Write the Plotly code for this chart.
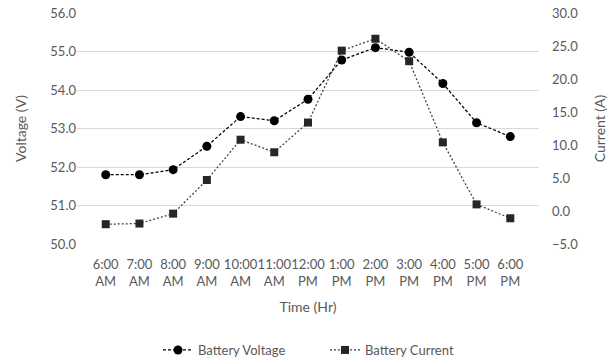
import plotly.graph_objects as go

times = ["6:00<br>AM", "7:00<br>AM", "8:00<br>AM", "9:00<br>AM", "10:00<br>AM", "11:00<br>AM",
         "12:00<br>PM", "1:00<br>PM", "2:00<br>PM", "3:00<br>PM", "4:00<br>PM", "5:00<br>PM", "6:00<br>PM"]
battery_voltage = [51.8, 51.8, 51.93, 52.54, 53.31, 53.2, 53.76, 54.78, 55.1, 54.98, 54.17, 53.15, 52.79]
battery_current = [-2.0, -1.9, -0.4, 4.7, 10.8, 8.9, 13.4, 24.3, 26.1, 22.7, 10.4, 1.0, -1.1]

FONT = "Lato"
TXT = "#595959"

fig = go.Figure()
fig.add_trace(go.Scatter(
    x=times, y=battery_voltage, name="Battery Voltage", mode="lines+markers",
    line=dict(color="#000000", width=1.25, dash="3px,2px"),
    marker=dict(symbol="circle", size=9, color="#000000"),
    yaxis="y",
))
fig.add_trace(go.Scatter(
    x=times, y=battery_current, name="Battery Current", mode="lines+markers",
    line=dict(color="#404040", width=1.25, dash="2px,2px"),
    marker=dict(symbol="square", size=8, color="#262626"),
    yaxis="y2",
))

fig.update_layout(
    width=608, height=361,
    margin=dict(l=77, r=69, t=13, b=117, autoexpand=False),
    paper_bgcolor="white", plot_bgcolor="white",
    font=dict(family=FONT, size=13, color=TXT),
    showlegend=True,
    legend=dict(orientation="h", x=158 / 608, xref="container", xanchor="left",
                y=1 - 350 / 361, yref="container", yanchor="middle",
                font=dict(size=13, color=TXT), entrywidth=122, tracegroupgap=0),
    xaxis=dict(
        type="category", showgrid=False, showline=False, ticks="", automargin=False,
        tickangle=0, tickfont=dict(size=13, color=TXT), ticklabelstandoff=11,
        title=dict(text="Time (Hr)", font=dict(size=14, color=TXT), standoff=14),
    ),
    yaxis=dict(
        range=[50, 56], dtick=1, tickformat=".1f", automargin=False,
        showgrid=True, gridcolor="#d9d9d9", gridwidth=1, zeroline=False,
        showline=False, ticks="", tickfont=dict(size=13, color=TXT),
        title=dict(text="Voltage (V)", font=dict(size=14, color=TXT), standoff=20),
    ),
    yaxis2=dict(
        range=[-5, 30], dtick=5, tickformat=".1f", overlaying="y", side="right",
        showgrid=False, zeroline=False, showline=False, ticks="", automargin=False,
        tickfont=dict(size=13, color=TXT), ticklabelstandoff=12,
        title=dict(text="Current (A)", font=dict(size=14, color=TXT), standoff=20),
    ),
)

fig.write_html("out.html")
